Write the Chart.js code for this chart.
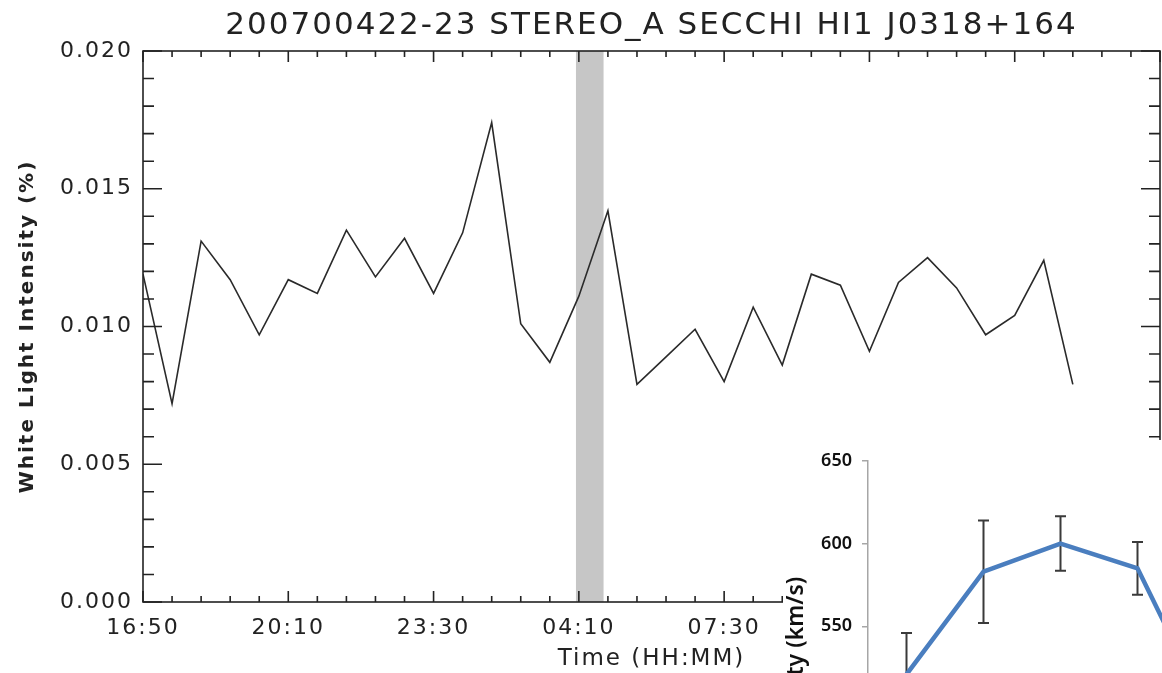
<!DOCTYPE html>
<html>
<head>
<meta charset="utf-8">
<script src="https://cdn.jsdelivr.net/npm/chart.js@4.4.1/dist/chart.umd.min.js"></script>
<style>
  html, body { margin: 0; padding: 0; background: #fff; }
  body { width: 1162px; height: 673px; overflow: hidden; position: relative; }
  #main-chart { position: absolute; left: 0; top: 0; }
  #speed-chart { position: absolute; left: 783px; top: 440px; background: #fff; }
</style>
</head>
<body>
<canvas id="main-chart" width="1162" height="673"></canvas>
<canvas id="speed-chart" width="480" height="454"></canvas>
<script>
// White light intensity, one sample per minor tick (40 min)
const intensity = [
    0.0119, 0.0072, 0.0131, 0.0117, 0.0097, 0.0117, 0.0112, 0.0135, 0.0118, 0.0132,
    0.0112, 0.0134, 0.0174, 0.0101, 0.0087, 0.0111, 0.0142, 0.0079, 0.0089, 0.0099,
    0.0080, 0.0107, 0.0086, 0.0119, 0.0115, 0.0091, 0.0116, 0.0125, 0.0114, 0.0097,
    0.0104, 0.0124, 0.0079
];
const timeLabels = ['16:50', '20:10', '23:30', '04:10', '07:30'];
const bandRange = [14.9, 15.85];
const mainTitle = '200700422-23 STEREO_A SECCHI HI1 J0318+164';

// Inset: speed with error bars
const speedLabels = ['1', '2', '3', '4', '5'];
const speedValues = [521, 583, 600, 585, 490];
const speedErrors = [25, 31, 16.5, 16, 20];

const font = 'DejaVu Sans';

// IDL plots have wide letter spacing
const letterSpacing = {
    id: 'letterSpacing',
    beforeDraw(chart) {
        chart.ctx.letterSpacing = '2px';
    }
};

// title centred over the plot box, not the canvas
const plotTitle = {
    id: 'plotTitle',
    afterDraw(chart) {
        const {ctx, chartArea: a} = chart;
        ctx.save();
        ctx.fillStyle = '#222';
        ctx.font = `31px "${font}"`;
        ctx.textAlign = 'center';
        ctx.textBaseline = 'middle';
        ctx.fillText(mainTitle, (a.left + a.right) / 2, 26);
        ctx.restore();
    }
};

const shadeBand = {
    id: 'shadeBand',
    beforeDatasetsDraw(chart) {
        const {ctx, chartArea, scales: {x}} = chart;
        const x0 = x.getPixelForValue(bandRange[0]);
        const x1 = x.getPixelForValue(bandRange[1]);
        ctx.save();
        ctx.fillStyle = '#c6c6c6';
        ctx.fillRect(x0, chartArea.top, x1 - x0, chartArea.bottom - chartArea.top);
        ctx.restore();
    }
};

// box with inward ticks on all four sides
const idlFrame = {
    id: 'idlFrame',
    afterDatasetsDraw(chart) {
        const {ctx, chartArea: a, scales: {x, y}} = chart;
        ctx.save();
        ctx.strokeStyle = '#222';
        ctx.lineWidth = 1.6;
        ctx.strokeRect(a.left, a.top, a.right - a.left, a.bottom - a.top);
        ctx.beginPath();
        for (let i = x.min; i <= x.max; i++) {
            const px = x.getPixelForValue(i);
            const len = i % 5 === 0 ? 11 : 6;
            ctx.moveTo(px, a.bottom);
            ctx.lineTo(px, a.bottom - len);
            ctx.moveTo(px, a.top);
            ctx.lineTo(px, a.top + len);
        }
        for (let k = 0; k <= 20; k++) {
            const py = y.getPixelForValue(k * 0.001);
            const len = k % 5 === 0 ? 19 : 11;
            ctx.moveTo(a.left, py);
            ctx.lineTo(a.left + len, py);
            ctx.moveTo(a.right, py);
            ctx.lineTo(a.right - len, py);
        }
        ctx.stroke();
        ctx.restore();
    }
};

const errorBars = {
    id: 'errorBars',
    beforeDatasetsDraw(chart) {
        const {ctx, scales: {x, y}} = chart;
        ctx.save();
        ctx.strokeStyle = '#3a3a3a';
        ctx.lineWidth = 2;
        ctx.beginPath();
        speedValues.forEach((v, i) => {
            const px = x.getPixelForValue(i);
            const top = y.getPixelForValue(v + speedErrors[i]);
            const bot = y.getPixelForValue(v - speedErrors[i]);
            ctx.moveTo(px, top);
            ctx.lineTo(px, bot);
            ctx.moveTo(px - 5.5, top);
            ctx.lineTo(px + 5.5, top);
            ctx.moveTo(px - 5.5, bot);
            ctx.lineTo(px + 5.5, bot);
        });
        ctx.stroke();
        ctx.restore();
    }
};

// Main light curve
new Chart(document.getElementById('main-chart'), {
    type: 'line',
    data: {
        datasets: [{
            data: intensity.map((v, i) => ({x: i, y: v})),
            borderColor: '#2a2a2a',
            borderWidth: 1.6,
            pointRadius: 0,
            tension: 0
        }]
    },
    options: {
        responsive: false,
        animation: false,
        layout: {padding: {top: 51, left: 0, right: 2, bottom: 0}},
        plugins: {
            legend: {display: false},
            tooltip: {enabled: false}
        },
        scales: {
            x: {
                type: 'linear',
                min: 0,
                max: 35,
                grid: {display: false, drawTicks: false},
                border: {display: false},
                ticks: {
                    stepSize: 5,
                    padding: 13,
                    maxRotation: 0,
                    autoSkip: false,
                    color: '#222',
                    font: {family: font, size: 22},
                    callback: v => timeLabels[v / 5] ?? ''
                },
                title: {
                    display: true,
                    text: 'Time (HH:MM)',
                    color: '#222',
                    font: {family: font, size: 23},
                    padding: 0
                },
                afterFit: s => {
                    s.height = 71;
                    s.paddingLeft = 0;
                    s.paddingRight = 0;
                }
            },
            y: {
                min: 0,
                max: 0.02,
                grid: {display: false, drawTicks: false},
                border: {display: false},
                ticks: {
                    stepSize: 0.005,
                    padding: 10,
                    color: '#222',
                    font: {family: font, size: 22},
                    callback: v => v.toFixed(3)
                },
                title: {
                    display: true,
                    text: 'White Light Intensity (%)',
                    color: '#222',
                    font: {family: font, size: 20, weight: 'bold'},
                    padding: {top: 16, bottom: 0}
                },
                afterFit: s => {
                    s.width = 143;
                    s.paddingTop = 0;
                    s.paddingBottom = 0;
                }
            }
        }
    },
    plugins: [letterSpacing, shadeBand, idlFrame, plotTitle]
});

// Inset speed plot
new Chart(document.getElementById('speed-chart'), {
    type: 'line',
    data: {
        labels: speedLabels,
        datasets: [{
            data: speedValues,
            borderColor: '#4a7ebf',
            borderWidth: 4.5,
            pointRadius: 0,
            tension: 0
        }]
    },
    options: {
        responsive: false,
        animation: false,
        layout: {padding: {top: 12, left: 0, right: 10, bottom: 0}},
        plugins: {
            legend: {display: false},
            tooltip: {enabled: false}
        },
        scales: {
            x: {
                offset: true,
                grid: {display: false},
                border: {color: '#a6a6a6', width: 1.5},
                ticks: {color: '#111', font: {family: 'Noto Sans', size: 18, weight: '600'}},
                afterFit: s => { s.height = 36; }
            },
            y: {
                min: 410,
                max: 650,
                grid: {drawOnChartArea: false, tickLength: 6, color: '#a6a6a6', lineWidth: 1.5},
                border: {color: '#a6a6a6', width: 1.5},
                ticks: {
                    stepSize: 50,
                    padding: 10,
                    color: '#111',
                    font: {family: 'Noto Sans', size: 18, weight: '600'},
                    callback: v => (v % 50 === 0 ? v : '')
                },
                title: {
                    display: true,
                    text: 'Velocity (km/s)',
                    color: '#111',
                    font: {family: 'Noto Sans', size: 23, weight: '600'},
                    padding: {top: 0, bottom: 0}
                },
                afterFit: s => { s.width = 85; }
            }
        }
    },
    plugins: [errorBars]
});
</script>
</body>
</html>
